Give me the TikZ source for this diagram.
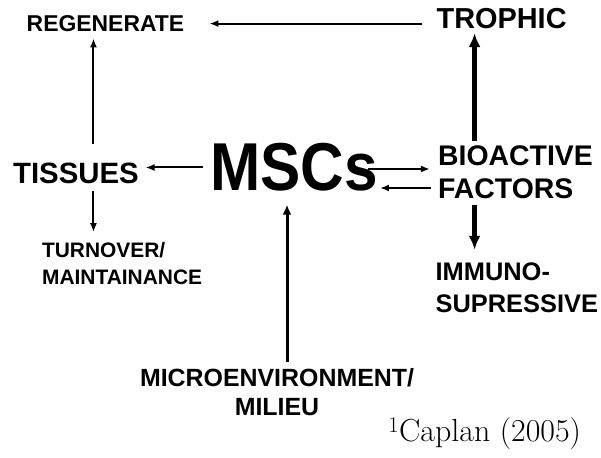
\documentclass[tikz,border=0pt]{standalone}
\usepackage{fontspec}
\setsansfont{Liberation Sans}
\newfontfamily\mscfont{Liberation Sans}[FakeStretch=0.89]
\usetikzlibrary{arrows.meta,positioning}

\begin{document}
\begin{tikzpicture}[
    x=1bp, y=1bp,
    node distance=60bp,
    term/.style n args={2}{
		inner sep=0pt,
		align=left,
		font=\sffamily\bfseries\fontsize{#1}{#2}\selectfont
	},
	hub/.style={
		inner sep=0pt,
		font=\mscfont\bfseries\fontsize{68}{80}\selectfont
	},
	note/.style={
		inner sep=0pt,
		font=\fontsize{32}{38}\selectfont
	},
	flow/.style={
		-{Latex[length=9bp,width=7bp]},
		line width=2bp
	},
	strong/.style={
		-{Latex[length=14bp,width=12bp]},
		line width=5bp
	}
  ]

 \path [fill=white, use as bounding box] (0,0) rectangle (601,458);

 \node [hub] (msc) at (294,290.5) {MSCs};
 \node [term={29.5}{35}, left=71bp of msc, yshift=-6bp] (tissues) {TISSUES};
 \node [term={23}{28}, above=131bp of tissues, xshift=29.5bp] (regen) {REGENERATE};
 \node [term={29}{35}, right=252bp of regen, yshift=5.5bp] (trophic) {TROPHIC};
 \node [term={28.5}{34}, right=60bp of msc, yshift=-4.7bp] (bio) {BIOACTIVE\\FACTORS};
 \node [term={25.5}{32}, below=63bp of bio.south west, anchor=north west, xshift=-2.5bp] (immuno) {IMMUNO-\\SUPRESSIVE};
 \node [term={21}{27}, below=58bp of tissues.south west, anchor=north west, xshift=29bp] (turnover) {TURNOVER/\\MAINTAINANCE};
 \node [term={25}{29}, align=center, below=177bp of msc, xshift=-17bp] (micro) {MICROENVIRONMENT/\\MILIEU};

% // the source
 \node [note, anchor=base east] (caplan) at ([xshift=-17bp,yshift=-129bp]immuno.south east) {\textsuperscript{1}Caplan (2005)};

% // spines of the vertical arrows
 \coordinate (lspine) at ([xshift=17.5bp]tissues.north);
 \coordinate (rspine) at ([xshift=36.6bp]bio.north west);
 \coordinate (mspine) at ([xshift=10bp]micro.north);
 \coordinate (hi) at ([yshift=-1.5bp]msc.east);
 \coordinate (lo) at ([yshift=-20.5bp]msc.east);

 \draw [flow, shorten <=14bp, shorten >=25bp] (trophic.west |- regen.east) -- (regen.east);
 \draw [flow, shorten <=19bp, shorten >=6.5bp] (lspine) -- (lspine |- regen.south);
 \draw [flow, shorten <=7bp, shorten >=10bp] (lspine |- tissues.south) -- (lspine |- turnover.north);
 \draw [flow, shorten <=7bp, shorten >=6.5bp] (msc.west) -- (msc.west -| tissues.east);

 \draw [flow, shorten <=-10bp, shorten >=8bp] (hi) -- (hi -| bio.west);
 \draw [flow, shorten <=7bp, shorten >=2bp] (lo -| bio.west) -- (lo);

 \draw [strong, shorten <=4bp, shorten >=4.6bp] (rspine) -- (rspine |- trophic.south);
 \draw [strong, shorten <=6bp, shorten >=12.6bp] (rspine |- bio.south) -- (rspine |- immuno.north);

 \draw [flow, line width=3bp, -{Latex[length=10bp,width=9bp]}, shorten <=7bp, shorten >=13bp] (mspine) -- (mspine |- msc.south);

\end{tikzpicture}
\end{document}
